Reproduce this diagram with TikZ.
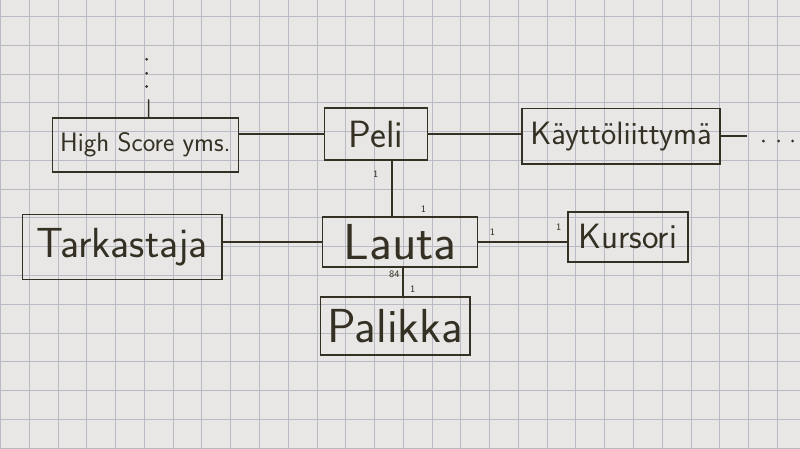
\documentclass[tikz,border=0pt]{standalone}
\usepackage{xcolor}
\usepackage{tikz}
\usetikzlibrary{positioning,calc}
\definecolor{ink}{RGB}{52,48,36}
\definecolor{paper}{RGB}{233,231,229}
\definecolor{gridl}{RGB}{186,186,196}
\tikzset{
  cls/.style={draw=ink, line width=1.1pt, fill=none, align=center, inner sep=2pt,
    text=ink, font=\sffamily},
  link/.style={draw=ink, line width=1.1pt},
  mult/.style={font=\sffamily\scriptsize, text=ink, inner sep=1pt},
  dot/.style={fill=ink},
  gridpaper/.style={draw=gridl, line width=0.5pt}
}
\newcommand{\handsize}[1]{\fontsize{#1}{#1}\selectfont}

\begin{document}
\begin{tikzpicture}
    % paper and squares
    \fill[paper] (0,0) rectangle (20,11.2);
    \draw[gridpaper, step=0.72] (0,0) grid (20,11.2);
    \useasboundingbox (0,0) rectangle (20,11.2);

    % classes
    \node[cls, minimum width=4.65cm, minimum height=1.35cm, font=\sffamily\handsize{19}] (hs) at (3.63,7.58){High Score yms.};
    \node[cls, minimum width=2.58cm, minimum height=1.3cm, font=\sffamily\handsize{27}] (peli) at (9.4,7.85){Peli};
    \node[cls, minimum width=4.95cm, minimum height=1.38cm, font=\sffamily\handsize{23}] (ui) at (15.53,7.8){Käyttöliittymä};
    \node[cls, minimum width=5.0cm, minimum height=1.62cm, font=\sffamily\handsize{30}] (tark) at (3.05,5.03){Tarkastaja};
    \node[cls, minimum width=3.88cm, minimum height=1.25cm, font=\sffamily\handsize{36}, inner sep=0pt] (lauta) at (10.0,5.15){Lauta};
    \node[cls, minimum width=3.0cm, minimum height=1.25cm, font=\sffamily\handsize{25}] (kursori) at (15.7,5.28){Kursori};
    \node[cls, minimum width=3.75cm, minimum height=1.45cm, font=\sffamily\handsize{34}, inner sep=0pt] (palikka) at (9.88,3.05){Palikka};

    % continuations
    \coordinate (hsup) at ($(hs.north)+(0.08,0.45)$);
    \coordinate (uiend) at ($(ui.east)+(0.67,0)$);
    \foreach \d in {0.32,0.65,1.0}
      \fill[dot] ($(hsup)+(-0.05,\d)$) circle (1.1pt);
    \foreach \d in {0.4,0.78,1.13}
      \fill[dot] ($(uiend)+(\d,-0.12)$) circle (1.1pt);

    % associations
    \draw[link] ([xshift=0.8mm]hs.north) -- (hsup);
    \draw[link] (peli.west -| hs.east) -- (peli.west);
    \draw[link] (peli.east) -- (peli.east -| ui.west);
    \draw[link] (ui.east) -- (uiend);
    \draw[link] ([xshift=4mm]peli.south) -- ([xshift=4mm]peli.south |- lauta.north);
    \draw[link] (lauta.west -| tark.east) -- (lauta.west);
    \draw[link] (lauta.east) -- (lauta.east -| kursori.west);
    \draw[link] ([xshift=0.8mm]lauta.south) -- ([xshift=0.8mm]lauta.south |- palikka.north);

    % multiplicities
    \node[mult, below left=0.2cm and 0.3cm of peli.south, xshift=4mm] {1};
    \node[mult, above right=0.05cm and 0.08cm of lauta.north, xshift=4mm] {1};
    \node[mult, below left=0.03cm and 0.05cm of lauta.south, xshift=0.8mm] {84};
    \node[mult, above right=0.05cm and 0.2cm of palikka.north, xshift=1.3mm] {1};
    \node[mult, above right=0.12cm and 0.25cm of lauta.east] {1};
    \node[mult, above left=0.12cm and 0.1cm of kursori.west] {1};
\end{tikzpicture}
\end{document}
